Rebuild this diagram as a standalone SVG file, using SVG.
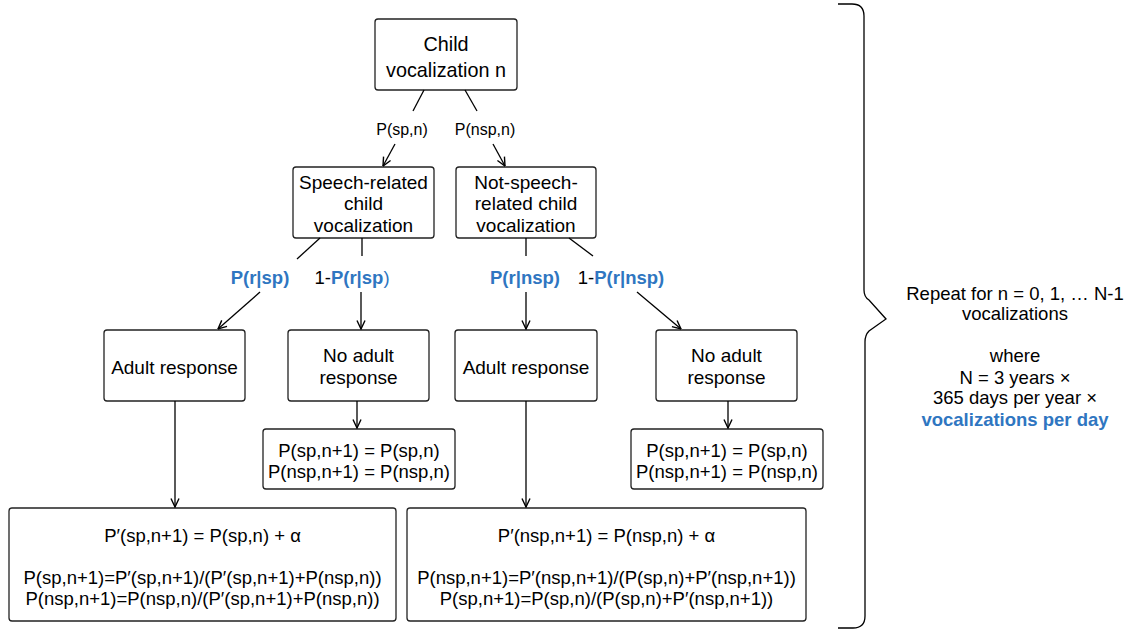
<svg xmlns="http://www.w3.org/2000/svg" width="1132" height="631" viewBox="0 0 1132 631">
<defs>
<marker id="arr" viewBox="0 0 10 10" refX="9.5" refY="5" markerWidth="10" markerHeight="10" markerUnits="userSpaceOnUse" orient="auto">
<path d="M1,1 L9.5,5 L1,9" fill="none" stroke="#000" stroke-width="1.4"/>
</marker>
</defs>
<style>
text{font-family:"Liberation Sans",Arial,Helvetica,sans-serif;fill:#000;text-anchor:middle}
.n{font-size:18.5px}
.m{font-size:19px}
.t{font-size:19.8px}
.lbl{font-size:16px}
.b{font-weight:bold;fill:#2F76C1}
.bl{fill:#2F76C1}
rect{fill:#fff;stroke:#222;stroke-width:1.3}
.c line{stroke:#000;stroke-width:1.3}
.brace{fill:none;stroke:#000;stroke-width:1.3}
</style>
<rect x="0" y="0" width="1132" height="631" style="fill:#fff;stroke:none"/>
<g id="top"><rect x="375" y="19" width="142" height="71" rx="3"/>
<text class="t" x="446" y="51">Child</text><text class="t" x="446" y="77">vocalization n</text></g>
<g id="speech"><rect x="293" y="167" width="141" height="71" rx="3"/>
<text class="m" x="363.5" y="189">Speech-related</text><text class="m" x="363.5" y="210">child</text><text class="m" x="363.5" y="232">vocalization</text></g>
<g id="notspeech"><rect x="456" y="167" width="140" height="71" rx="3"/>
<text class="m" x="526" y="189">Not-speech-</text><text class="m" x="526" y="210">related child</text><text class="m" x="526" y="232">vocalization</text></g>
<g id="adult1"><rect x="104" y="330" width="141" height="71" rx="3"/>
<text class="m" x="174.5" y="374">Adult response</text></g>
<g id="noadult1"><rect x="288" y="330" width="141" height="71" rx="3"/>
<text class="m" x="358.5" y="362">No adult</text><text class="m" x="358.5" y="384">response</text></g>
<g id="adult2"><rect x="455" y="330" width="142" height="71" rx="3"/>
<text class="m" x="526" y="374">Adult response</text></g>
<g id="noadult2"><rect x="656" y="330" width="141" height="71" rx="3"/>
<text class="m" x="726.5" y="362">No adult</text><text class="m" x="726.5" y="384">response</text></g>
<g id="eq1"><rect x="263" y="429" width="192" height="60" rx="3"/>
<text class="n" x="359" y="457">P(sp,n+1) = P(sp,n)</text><text class="n" x="359" y="478">P(nsp,n+1) = P(nsp,n)</text></g>
<g id="eq2"><rect x="631" y="429" width="192" height="60" rx="3"/>
<text class="n" x="727" y="457">P(sp,n+1) = P(sp,n)</text><text class="n" x="727" y="478">P(nsp,n+1) = P(nsp,n)</text></g>
<g id="update1"><rect x="9" y="508" width="387" height="113" rx="3"/>
<text class="n" x="202.5" y="542">P′(sp,n+1) = P(sp,n) + α</text>
<text class="n" x="202.5" y="584">P(sp,n+1)=P′(sp,n+1)/(P′(sp,n+1)+P(nsp,n))</text>
<text class="n" x="202.5" y="605">P(nsp,n+1)=P(nsp,n)/(P′(sp,n+1)+P(nsp,n))</text></g>
<g id="update2"><rect x="407" y="508" width="399" height="113" rx="3"/>
<text class="n" x="606.5" y="542">P′(nsp,n+1) = P(nsp,n) + α</text>
<text class="n" x="606.5" y="584">P(nsp,n+1)=P′(nsp,n+1)/(P(sp,n)+P′(nsp,n+1))</text>
<text class="n" x="606.5" y="605">P(sp,n+1)=P(sp,n)/(P(sp,n)+P′(nsp,n+1))</text></g>
<g id="connectors" class="c">
<line x1="424" y1="90" x2="413" y2="111"/><line x1="395" y1="144" x2="383" y2="166" marker-end="url(#arr)"/>
<line x1="465" y1="90" x2="477" y2="111"/><line x1="493" y1="144" x2="505" y2="166" marker-end="url(#arr)"/>
<line x1="320" y1="238" x2="297" y2="259"/><line x1="260" y1="292" x2="218" y2="329" marker-end="url(#arr)"/>
<line x1="362" y1="238" x2="362" y2="256"/><line x1="361" y1="292" x2="361" y2="329" marker-end="url(#arr)"/>
<line x1="526" y1="238" x2="526" y2="256"/><line x1="526" y1="292" x2="526" y2="329" marker-end="url(#arr)"/>
<line x1="569" y1="238" x2="593" y2="256"/><line x1="637" y1="292" x2="681" y2="329" marker-end="url(#arr)"/>
<line x1="175" y1="401" x2="175" y2="507" marker-end="url(#arr)"/>
<line x1="357" y1="401" x2="357" y2="428" marker-end="url(#arr)"/>
<line x1="526" y1="401" x2="526" y2="507" marker-end="url(#arr)"/>
<line x1="728" y1="401" x2="728" y2="428" marker-end="url(#arr)"/>
</g>
<g id="labels">
<text class="lbl" x="402" y="135">P(sp,n)</text>
<text class="lbl" x="485" y="135">P(nsp,n)</text>
<text class="n b" x="260" y="283.5">P(r|sp)</text>
<text class="n" x="352" y="283.5">1-<tspan class="b">P(r|sp</tspan><tspan class="bl">)</tspan></text>
<text class="n b" x="525" y="283.5">P(r|nsp)</text>
<text class="n" x="621" y="283.5">1-<tspan class="b">P(r|nsp)</tspan></text>
</g>
<g id="brace">
<path class="brace" d="M838,4 L852,4 Q864,4 864,16 L864,290 Q864,297 869,300 L886,319 L869,331 Q865,335 865,342 L865,616 Q865,628 853,628 L838,628"/>
<text class="n" x="1015" y="300">Repeat for n = 0, 1, … N-1</text>
<text class="n" x="1015" y="320">vocalizations</text>
<text class="n" x="1015" y="362">where</text>
<text class="n" x="1015" y="384">N = 3 years ×</text>
<text class="n" x="1015" y="404">365 days per year ×</text>
<text class="n b" x="1015" y="426">vocalizations per day</text>
</g>
</svg>
